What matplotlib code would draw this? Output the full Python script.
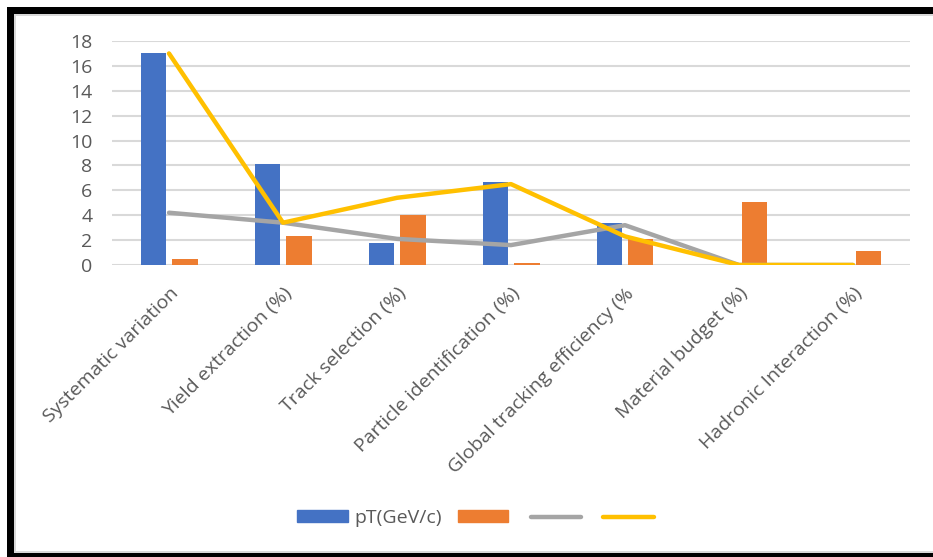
import matplotlib
matplotlib.use("Agg")
from matplotlib import pyplot as plt
from matplotlib.patches import Rectangle, Patch
from matplotlib.lines import Line2D
import numpy as np

# data
categories = ["Systematic variation", "Yield extraction (%)", "Track selection (%)",
              "Particle identification (%)", "Global tracking efficiency (%",
              "Material budget (%)", "Hadronic Interaction (%)"]
pt_blue = [17, 8.1, 1.8, 6.7, 3.4, 0, 0]
orange_vals = [0.45, 2.3, 4.0, 0.15, 2.1, 5.1, 1.15]
gray_vals = [4.2, 3.4, 2.1, 1.6, 3.2, 0, 0]
yellow_vals = [17, 3.4, 5.4, 6.5, 2.3, 0, 0]
yticks = np.arange(0, 19, 2)

plt.rcParams['font.family'] = ['Open Sans', 'DejaVu Sans']
txt = '#595959'

W, H = 933, 557
fig = plt.figure(figsize=(W / 100, H / 100), dpi=100)
ax = fig.add_axes([112 / W, 1 - 265 / H, (910 - 112) / W, (265 - 41) / H])

x = np.arange(len(categories))
bw = 0.22
off = 0.14
ax.bar(x - off, pt_blue, bw, color='#4472C4', zorder=2)
ax.bar(x + off, orange_vals, bw, color='#ED7D31', zorder=2)
ax.plot(x, gray_vals, color='#A5A5A5', lw=3.2, zorder=3, solid_capstyle='round', solid_joinstyle='round')
ax.plot(x, yellow_vals, color='#FFC000', lw=3.2, zorder=4, solid_capstyle='round', solid_joinstyle='round')

ax.set_xlim(-0.5, len(categories) - 0.5)
ax.set_ylim(0, 18)
ax.set_yticks(yticks)
ax.set_yticklabels([str(v) for v in yticks], fontsize=14, color=txt)
ax.yaxis.grid(True, color='#D9D9D9', lw=1.5, zorder=0)
ax.set_axisbelow(True)
for s in ax.spines.values():
    s.set_visible(False)
ax.tick_params(axis='both', length=0)
ax.tick_params(axis='y', pad=14)
ax.set_xticks(x)
ax.set_xticklabels(categories, rotation=45, ha='right', rotation_mode='anchor',
                   fontsize=14, color=txt)
ax.tick_params(axis='x', pad=14)

handles = [Patch(color='#4472C4'), Patch(color='#ED7D31'),
           Line2D([], [], color='#A5A5A5', lw=3.2, solid_capstyle='round'),
           Line2D([], [], color='#FFC000', lw=3.2, solid_capstyle='round')]
labels = ['pT(GeV/c)', '', '', '']
fig.legend(handles, labels, loc='center', bbox_to_anchor=(479 / W, 1 - 518 / H),
           ncol=4, frameon=False, fontsize=14, labelcolor=txt,
           handlelength=2.6, handleheight=0.55, handletextpad=0.35, columnspacing=0.8)

# black frame around the picture
def band(x0, y0, x1, y1, c):
    fig.add_artist(Rectangle((x0 / W, 1 - y1 / H), (x1 - x0) / W, (y1 - y0) / H,
                             transform=fig.transFigure, color=c, lw=0, zorder=10))

band(14, 14, W, 16, '#D9D9D9')
band(14, 14, 16, H, '#D9D9D9')
band(14, 551, W, 553, '#D9D9D9')
band(7, 7, W, 14, 'black')
band(7, 7, 14, H, 'black')
band(7, 553, W, H, 'black')

fig.savefig('out.png', dpi=100)
